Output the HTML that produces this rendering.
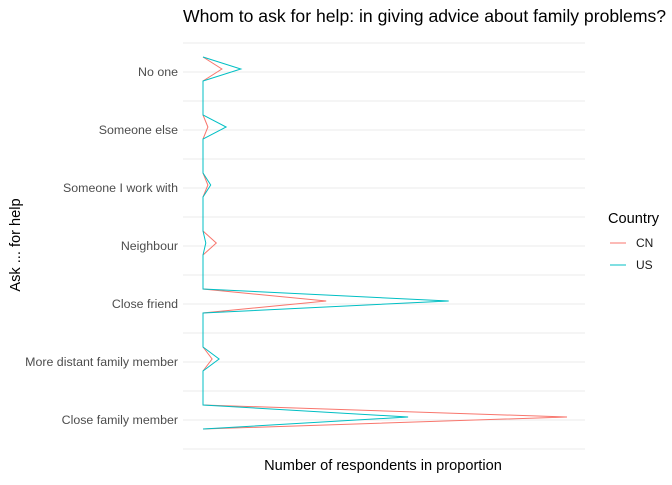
<!DOCTYPE html>
<html><head><meta charset="utf-8"><style>
body{margin:0;background:#fff;font-family:"Liberation Sans",sans-serif;}
svg text{font-family:"Liberation Sans",sans-serif;}
</style></head><body>
<svg id="chart" width="672" height="480" xmlns="http://www.w3.org/2000/svg">
<text x="183" y="22" font-size="17.6" fill="#000">Whom to ask for help: in giving advice about family problems?</text>
<g id="grid"></g>
<g id="ylabels"></g>
<g id="lines"></g>
<text x="383" y="470" font-size="14.6" text-anchor="middle" fill="#000">Number of respondents in proportion</text>
<text transform="translate(20,245) rotate(-90)" font-size="14.6" text-anchor="middle" fill="#000">Ask ... for help</text>
<g>
<text x="608" y="223" font-size="14.6" fill="#000">Country</text>
<line x1="610" x2="626" y1="243" y2="243" stroke="#F8766D" stroke-width="1"/>
<text x="636" y="247" font-size="12" fill="#1a1a1a">CN</text>
<line x1="610" x2="626" y1="265" y2="265" stroke="#00BFC4" stroke-width="1"/>
<text x="636" y="269" font-size="12" fill="#1a1a1a">US</text>
</g>
</svg>
<script>
const categories=["No one","Someone else","Someone I work with","Neighbour","Close friend","More distant family member","Close family member"];
const cnValues=[0.027,0.007,0.007,0.019,0.176,0.013,0.52];
const usValues=[0.054,0.033,0.011,0.004,0.351,0.023,0.293];
const NS="http://www.w3.org/2000/svg";
function xScale(v){return 203+v*700;}
function yScale(i){return 72+i*58;}
const grid=document.getElementById('grid');
for(let k=0;k<categories.length*2+1;k++){
  const y=yScale(0)-29+k*29;
  const l=document.createElementNS(NS,'line');
  
  
  l.setAttribute('x1',183);l.setAttribute('x2',585);l.setAttribute('y1',y);l.setAttribute('y2',y);
  l.setAttribute('stroke','#ebebeb');l.setAttribute('stroke-width',k%2?1.1:0.9);
  grid.appendChild(l);
}
const yl=document.getElementById('ylabels');
categories.forEach((c,i)=>{
  const t=document.createElementNS(NS,'text');
  
  
  t.setAttribute('x',178);t.setAttribute('y',yScale(i)+4);t.setAttribute('text-anchor','end');
  t.setAttribute('font-size','12.4');t.setAttribute('fill','#4d4d4d');t.textContent=c;yl.appendChild(t);
});
const lines=document.getElementById('lines');
function drawSeries(vals,color,name){
  let d='';
  vals.forEach((v,i)=>{
    const c=yScale(i);
    d+=(i?'L':'M')+xScale(0)+','+(c-15)+'L'+xScale(v)+','+(c-3)+'L'+xScale(0)+','+(c+9);
  });
  const p=document.createElementNS(NS,'path');
  
  
  p.setAttribute('d',d);p.setAttribute('fill','none');p.setAttribute('stroke',color);p.setAttribute('stroke-width','1');
  lines.appendChild(p);
}
drawSeries(cnValues,'#F8766D','line-cn');
drawSeries(usValues,'#00BFC4','line-us');
</script>
</body></html>
